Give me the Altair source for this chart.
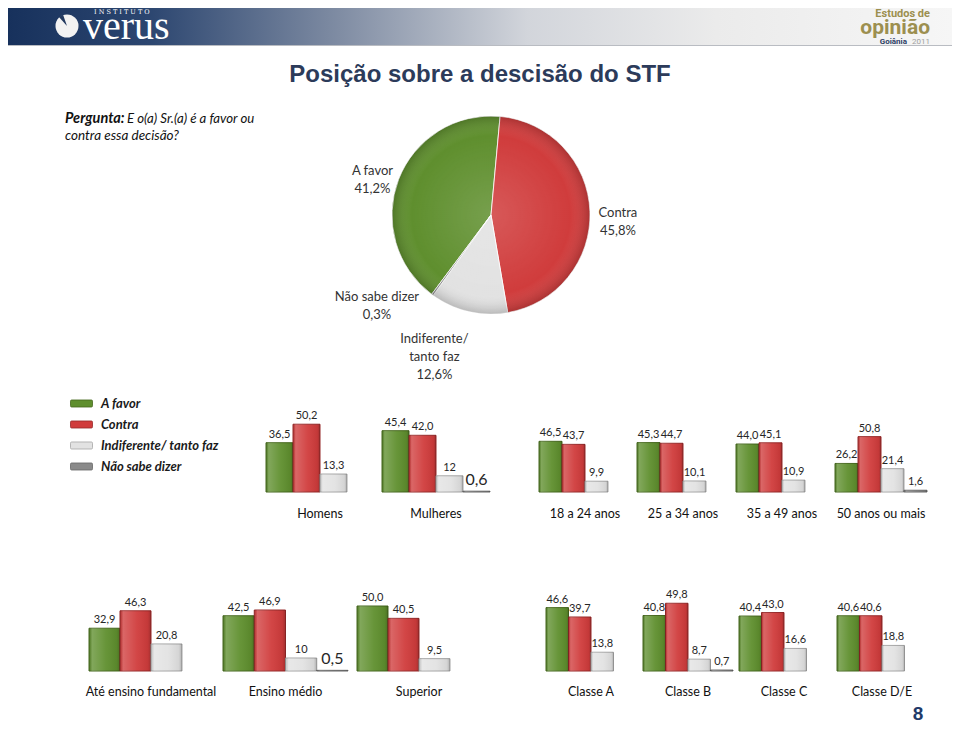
import altair as alt
import pandas as pd
import numpy as np

# ---------------- data ----------------
series = ["A favor", "Contra", "Indiferente/ tanto faz", "Não sabe dizer"]

pie_values = [41.2, 45.8, 12.6, 0.3]
pie_labels = ["A favor\n41,2%", "Contra\n45,8%", "Indiferente/\ntanto faz\n12,6%", "Não sabe dizer\n0,3%"]

row1_groups = ["Homens", "Mulheres", "18 a 24  anos", "25 a 34 anos", "35 a 49 anos", "50 anos ou mais"]
row1_a_favor = ["36,5", "45,4", "46,5", "45,3", "44,0", "26,2"]
row1_contra = ["50,2", "42,0", "43,7", "44,7", "45,1", "50,8"]
row1_indiferente = ["13,3", "12", "9,9", "10,1", "10,9", "21,4"]
row1_nao_sabe = [None, "0,6", None, None, None, "1,6"]

row2_groups = ["Até ensino fundamental", "Ensino médio", "Superior", "Classe A", "Classe B", "Classe C", "Classe D/E"]
row2_a_favor = ["32,9", "42,5", "50,0", "46,6", "40,8", "40,4", "40,6"]
row2_contra = ["46,3", "46,9", "40,5", "39,7", "49,8", "43,0", "40,6"]
row2_indiferente = ["20,8", "10", "9,5", "13,8", "8,7", "16,6", "18,8"]
row2_nao_sabe = [None, "0,5", None, None, "0,7", None, None]

# ---------------- layout / style ----------------
W, H = 944, 716
FONT = "Lato"
row1_layout = [(258, 27, 1.35), (374, 27, 1.35), (531, 23, 1.09), (629, 23, 1.09), (728, 23, 1.09), (827, 23, 1.09)]
row1_base, row1_label_y = 484, 506
row2_layout = [(81, 31, 1.3), (215, 31.25, 1.3), (349, 31, 1.3), (538, 22.5, 1.36), (635, 22.5, 1.36), (731, 22.5, 1.36), (829, 22.5, 1.36)]
row2_base, row2_label_y = 663, 684
big_label_groups = ["Mulheres", "Ensino médio"]

color_scale = alt.Scale(domain=series, range=["#5f8f2e", "#d03c3c", "#e2e2e2", "#8a8a8a"])
stroke_scale = alt.Scale(domain=series, range=["#44661c", "#962828", "#a4a4a4", "#666666"])

legend = alt.Legend(
    orient="none", legendX=62, legendY=384, title=None, padding=0,
    symbolType="M-0.9,-0.32 H0.9 Q1,-0.32 1,-0.2 V0.2 Q1,0.32 0.9,0.32 H-0.9 Q-1,0.32 -1,0.2 V-0.2 Q-1,-0.32 -0.9,-0.32 Z",
    symbolSize=484, symbolStrokeWidth=0.8, symbolStrokeColor="#777777", labelOffset=8, rowPadding=2,
    labelFont=FONT, labelFontSize=13, labelFontStyle="italic", labelFontWeight="bold",
    labelColor="#1a1a1a", labelLimit=300,
)

bar_shade = alt.Gradient(
    gradient="linear", x1=0, x2=1, y1=0, y2=0,
    stops=[
        alt.GradientStop(offset=0, color="rgba(0,0,0,0.10)"),
        alt.GradientStop(offset=0.1, color="rgba(255,255,255,0.22)"),
        alt.GradientStop(offset=0.55, color="rgba(255,255,255,0.05)"),
        alt.GradientStop(offset=0.9, color="rgba(0,0,0,0.06)"),
        alt.GradientStop(offset=1, color="rgba(0,0,0,0.22)"),
    ],
)


def one(rows):
    return pd.DataFrame(rows)


def group_chart(name, vals, x0, bw, k, base, label_y):
    rows = []
    for s, v in zip(series, vals):
        if v is None:
            continue
        big = name in big_label_groups and s == series[3]
        rows.append({"grupo": name, "serie": s, "valor": float(v.replace(",", ".")),
                     "rotulo": v, "fs": 16 if big else 11})
    df = pd.DataFrame(rows)
    xs = alt.Scale(domain=series, range=[x0, x0 + 4 * bw], paddingInner=0, paddingOuter=0)
    ys = alt.Scale(domain=[0, 60], range=[base, base - 60 * k], nice=False, zero=True)
    X = alt.X("serie:N", scale=xs, axis=None, sort=series)
    Y = alt.Y("valor:Q", scale=ys, axis=None)
    bars = alt.Chart(df).mark_bar(strokeWidth=1).encode(
        x=X, y=Y,
        color=alt.Color("serie:N", scale=color_scale, legend=legend),
        stroke=alt.Stroke("serie:N", scale=stroke_scale, legend=None),
    )
    shade = alt.Chart(df).mark_bar(fill=bar_shade).encode(x=X, y=Y)
    labels = alt.Chart(df).mark_text(baseline="bottom", dy=-3, font=FONT, color="#262626").encode(
        x=X, y=Y, text="rotulo:N", size=alt.Size("fs:Q", scale=None)
    )
    title = alt.Chart(one({"t": [name]})).mark_text(
        font=FONT, fontSize=12.5, color="#111111", baseline="middle"
    ).encode(x=alt.value(x0 + 2 * bw), y=alt.value(label_y), text="t:N")
    return alt.layer(bars, shade, labels, title)


layers = []

# ---------------- header ----------------
header_grad = alt.Gradient(
    gradient="linear", x1=0, x2=1, y1=0, y2=0,
    stops=[
        alt.GradientStop(offset=0, color="#17315c"),
        alt.GradientStop(offset=0.15, color="#2c4670"),
        alt.GradientStop(offset=0.35, color="#7f8ca3"),
        alt.GradientStop(offset=0.55, color="#d2d5db"),
        alt.GradientStop(offset=0.75, color="#ebebeb"),
        alt.GradientStop(offset=1, color="#f6f6f6"),
    ],
)
d0 = one({"a": [0]})
layers.append(alt.Chart(d0).mark_rect(fill=header_grad).encode(
    x=alt.value(0), x2=alt.value(W), y=alt.value(0), y2=alt.value(37)))
layers.append(alt.Chart(d0).mark_rule(color="#b9bcc2", strokeWidth=1).encode(
    x=alt.value(0), x2=alt.value(W), y=alt.value(37.5)))
layers.append(alt.Chart(d0).mark_arc(radius=11.5, theta=0, theta2=2 * np.pi, fill="#f2f2f2").encode(
    x=alt.value(59), y=alt.value(18)))
layers.append(alt.Chart(d0).mark_arc(radius=12, theta=5.55, theta2=5.95, fill="#22395f").encode(
    x=alt.value(59), y=alt.value(18)))
layers.append(alt.Chart(one({"t": ["I   N   S   T   I   T   U   T   O"]})).mark_text(
    font="DejaVu Serif", fontSize=6.5, color="#ffffff", align="left", baseline="middle"
).encode(x=alt.value(86), y=alt.value(4), text="t:N"))
layers.append(alt.Chart(one({"t": ["verus"]})).mark_text(
    font="Liberation Serif", fontSize=40, color="#ffffff", align="left", baseline="alphabetic"
).encode(x=alt.value(75), y=alt.value(31), text="t:N"))
layers.append(alt.Chart(one({"t": ["Estudos de"]})).mark_text(
    font="Roboto", fontSize=11, fontWeight="bold", color="#9c8f4f", align="right", baseline="alphabetic"
).encode(x=alt.value(922), y=alt.value(9), text="t:N"))
layers.append(alt.Chart(one({"t": ["opinião"]})).mark_text(
    font="Roboto", fontSize=21, fontWeight="bold", color="#9c8f4f", align="right", baseline="alphabetic"
).encode(x=alt.value(922), y=alt.value(26), text="t:N"))
layers.append(alt.Chart(one({"t": ["Goiânia"]})).mark_text(
    font="Roboto", fontSize=8, fontWeight="bold", color="#2b3d64", align="right", baseline="alphabetic"
).encode(x=alt.value(899), y=alt.value(36), text="t:N"))
layers.append(alt.Chart(one({"t": ["2011"]})).mark_text(
    font="Roboto", fontSize=8, color="#a0a0a0", align="right", baseline="alphabetic"
).encode(x=alt.value(922), y=alt.value(36), text="t:N"))

# ---------------- title / question ----------------
layers.append(alt.Chart(one({"t": ["Posição sobre a descisão do STF"]})).mark_text(
    font="Liberation Sans", fontSize=24, fontWeight="bold", color="#2c3b5a", baseline="middle"
).encode(x=alt.value(472), y=alt.value(67), text="t:N"))
layers.append(alt.Chart(one({"t": ["Pergunta:"]})).mark_text(
    font=FONT, fontSize=14.5, fontWeight="bold", fontStyle="italic", color="#111111", align="left", baseline="middle"
).encode(x=alt.value(57), y=alt.value(111), text="t:N"))
layers.append(alt.Chart(one({"t": ["E o(a) Sr.(a) é a favor ou"]})).mark_text(
    font=FONT, fontSize=13.2, fontStyle="italic", color="#111111", align="left", baseline="middle"
).encode(x=alt.value(119), y=alt.value(111), text="t:N"))
layers.append(alt.Chart(one({"t": ["contra essa decisão?"]})).mark_text(
    font=FONT, fontSize=13.5, fontStyle="italic", color="#111111", align="left", baseline="middle"
).encode(x=alt.value(57), y=alt.value(128), text="t:N"))

# ---------------- pie ----------------
CX, CY, R = 483, 207, 99
pie_df = pd.DataFrame({"serie": series, "valor": pie_values, "rotulo": pie_labels, "ordem": list(range(4))})
start = np.deg2rad(216.8)
theta_scale = alt.Scale(domain=[0, float(sum(pie_values))], range=[start, start + 2 * np.pi])
pie = alt.Chart(pie_df).mark_arc(radius=R, stroke="#ffffff", strokeWidth=0.8).encode(
    theta=alt.Theta("valor:Q", stack=True, scale=theta_scale),
    order=alt.Order("ordem:Q"),
    color=alt.Color("serie:N", scale=color_scale, legend=legend),
    x=alt.value(CX), y=alt.value(CY),
)
pie_shade = alt.Chart(d0).mark_arc(
    radius=R, theta=0, theta2=2 * np.pi,
    fill=alt.Gradient(gradient="radial", x1=0.5, y1=0.5, r1=0, x2=0.5, y2=0.5, r2=0.5,
                      stops=[alt.GradientStop(offset=0, color="rgba(255,255,255,0.15)"),
                             alt.GradientStop(offset=0.8, color="rgba(255,255,255,0.0)"),
                             alt.GradientStop(offset=1, color="rgba(0,0,0,0.18)")]),
).encode(x=alt.value(CX), y=alt.value(CY))
pie_layers = [pie, pie_shade]
label_offsets = {"A favor": (0, 2), "Contra": (0, 3), "Indiferente/ tanto faz": (-28, 0), "Não sabe dizer": (-39, -20)}
pie_base = alt.Chart(pie_df).transform_window(
    cum="sum(valor)", sort=[alt.SortField("ordem")], frame=[None, 0]
).transform_calculate(meio="datum.cum - datum.valor / 2")
for s in series:
    dx, dy = label_offsets[s]
    pie_layers.append(
        pie_base.transform_filter(alt.datum.serie == s).mark_text(
            lineBreak="\n", lineHeight=18, font=FONT, fontSize=13, color="#333333",
            align="center", baseline="middle", dx=dx, dy=dy,
        ).encode(
            theta=alt.Theta("meio:Q", stack=None, scale=theta_scale),
            radius=alt.value(127), x=alt.value(CX), y=alt.value(CY), text="rotulo:N",
        )
    )
layers.append(alt.layer(*pie_layers))

# ---------------- bar groups ----------------
for i, g in enumerate(row1_groups):
    x0, bw, k = row1_layout[i]
    vals = [row1_a_favor[i], row1_contra[i], row1_indiferente[i], row1_nao_sabe[i]]
    layers.append(group_chart(g, vals, x0, bw, k, row1_base, row1_label_y))
for i, g in enumerate(row2_groups):
    x0, bw, k = row2_layout[i]
    vals = [row2_a_favor[i], row2_contra[i], row2_indiferente[i], row2_nao_sabe[i]]
    layers.append(group_chart(g, vals, x0, bw, k, row2_base, row2_label_y))

# ---------------- page number ----------------
layers.append(alt.Chart(one({"t": ["8"]})).mark_text(
    font="Liberation Sans", fontSize=19, fontWeight="bold", color="#1f3a68", baseline="middle"
).encode(x=alt.value(910), y=alt.value(706), text="t:N"))

chart = alt.layer(*layers).resolve_scale(
    x="independent", y="independent"
).properties(
    width=W, height=H, autosize=alt.AutoSizeParams(type="none"), padding=0
).configure_view(stroke=None)

chart.save("out.html", embed_options={"renderer": "svg", "actions": False})
